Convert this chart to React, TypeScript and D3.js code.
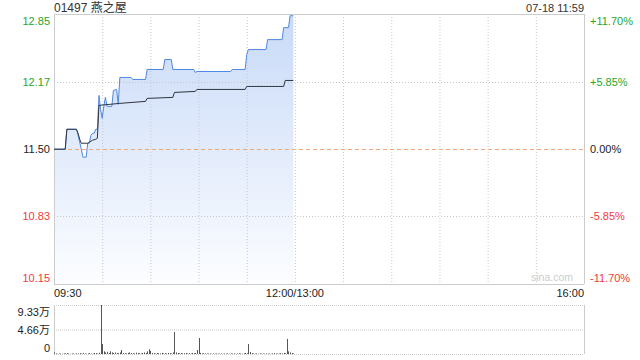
import React from "react";
import * as d3 from "d3";

// ---- data ----
const title = "01497 燕之屋";
const stamp = "07-18 11:59";
const prevClose = 11.5;
const priceTicks = [12.85, 12.17, 11.5, 10.83, 10.15];
const pctTicks = ["+11.70%", "+5.85%", "0.00%", "-5.85%", "-11.70%"];
const volTicks = [9.33, 4.66, 0];
const volTickLabels = ["9.33万", "4.66万", "0"];
const timeLabels = ["09:30", "12:00/13:00", "16:00"];
const timeLabelAt = [0, 150, 330];

// minutes since 09:30 (session minutes), price
const priceMin = [0, 7, 8, 14, 15, 16, 17, 18, 20, 21, 22, 23, 24, 25, 26, 27, 28, 29, 30, 31, 32, 33, 36, 37, 39, 40, 41, 48, 49, 57, 58, 68, 69, 73, 74, 87, 88, 89, 110, 111, 119, 120, 121, 132, 133, 142, 143, 146, 147, 149];
const priceVal = [11.5, 11.5, 11.7, 11.7, 11.64, 11.57, 11.5, 11.42, 11.42, 11.56, 11.56, 11.64, 11.66, 11.66, 11.7, 11.7, 12.04, 11.9, 11.81, 11.93, 12.02, 11.93, 11.93, 12.09, 12.1, 11.95, 12.22, 12.22, 12.2, 12.2, 12.3, 12.3, 12.4, 12.4, 12.3, 12.3, 12.27, 12.28, 12.28, 12.3, 12.3, 12.45, 12.5, 12.5, 12.6, 12.6, 12.72, 12.72, 12.84, 12.84];

const avgMin = [0, 7, 8, 14, 15, 16, 17, 21, 22, 23, 24, 26, 27, 28, 41, 57, 58, 74, 75, 88, 89, 119, 120, 143, 144, 149];
const avgVal = [11.5, 11.5, 11.7, 11.7, 11.66, 11.6, 11.56, 11.56, 11.57, 11.58, 11.59, 11.6, 11.61, 11.94, 11.96, 11.98, 12.01, 12.02, 12.07, 12.08, 12.1, 12.1, 12.13, 12.13, 12.19, 12.19];

// volume per minute (万), minutes 0..149
const volume = [
  0.3, 0.1, 0.05, 0.1, 0.08, 0.05, 0.1, 0.12, 0.15, 0.1,
  0.05, 0.08, 0.1, 0.05, 0.12, 0.1, 0.15, 0.08, 0.2, 0.1,
  0.05, 0.1, 0.15, 0.1, 0.08, 0.2, 0.15, 0.1, 0.25, 9.33,
  1.9, 0.5, 0.3, 0.4, 0.2, 0.5, 0.3, 0.2, 0.3, 0.2,
  0.15, 0.3, 0.76, 0.2, 0.15, 0.1, 0.2, 0.3, 0.2, 0.15,
  0.1, 0.25, 0.2, 0.15, 0.1, 0.2, 0.3, 0.2, 0.5, 0.9,
  0.6, 0.2, 0.15, 0.1, 0.2, 0.15, 0.1, 0.2, 0.1, 0.15,
  0.1, 0.2, 0.15, 0.1, 0.3, 4.19, 0.3, 0.2, 0.15, 0.2,
  0.1, 0.15, 0.2, 0.1, 0.15, 0.1, 0.2, 0.15, 0.2, 0.76,
  3.05, 0.2, 0.1, 0.15, 0.1, 0.1, 0.08, 0.1, 0.05, 0.1,
  0.08, 0.1, 0.05, 0.1, 0.08, 0.05, 0.1, 0.08, 0.1, 0.05,
  0.1, 0.08, 0.1, 0.05, 0.1, 0.15, 0.1, 0.05, 0.1, 0.2,
  0.15, 1.9, 0.4, 0.15, 0.1, 0.08, 0.1, 0.05, 0.1, 0.08,
  0.1, 0.05, 0.1, 0.08, 0.1, 0.05, 0.1, 0.15, 0.1, 0.08,
  0.1, 0.15, 0.1, 0.2, 0.15, 2.86, 0.5, 0.3, 0.2, 0.1,
];

const GREEN = "#2aa52a";
const RED = "#f03a3a";
const DARK = "#222";
const FONT = "Arial, 'Liberation Sans', 'Noto Sans CJK SC', sans-serif";

export default function App() {
  const L = 54, R = 584, T = 14, B = 284;
  const VT = 305, VB = 354;
  const x = d3.scaleLinear().domain([0, 330]).range([L, R]);
  const y = d3.scaleLinear().domain([10.15, 12.85]).range([B - 0.3, T + 0.7]);
  const vy = d3.scaleLinear().domain([0, 9.33]).range([VB, VT]);

  const pricePts = priceMin.map((m, i) => [m, priceVal[i]] as [number, number]);
  const avgPts = avgMin.map((m, i) => [m, avgVal[i]] as [number, number]);

  const line = d3.line<[number, number]>().x(d => x(d[0])).y(d => y(d[1]));
  const area = d3.area<[number, number]>().x(d => x(d[0])).y0(B).y1(d => y(d[1]));

  const vGrid = d3.range(1, 11).map(i => i * 30);
  const labelColor = (i: number) => (i < 2 ? GREEN : i === 2 ? DARK : RED);
  const labelY = (i: number, v: number) => (i === 0 ? T + 10.5 : i === 4 ? B - 2.5 : y(v) + 4);

  return (
    <div style={{ position: "absolute", left: 0, top: 0 }}>
      <svg width={640} height={360} style={{ display: "block", fontFamily: FONT }}>
        <defs>
          <linearGradient id="fillg" gradientUnits="userSpaceOnUse" x1={0} y1={T} x2={0} y2={B}>
            <stop offset="0" stopColor="#c8daf8" />
            <stop offset="1" stopColor="#fcfdff" />
          </linearGradient>
        </defs>
        <rect width={640} height={360} fill="#fff" />
        <text x={L} y={12} fontSize={12} fill="#333">{title}</text>
        <text x={R} y={12} fontSize={11} fill="#333" textAnchor="end">{stamp}</text>

        {/* area */}
        <path d={area(pricePts) || ""} fill="url(#fillg)" />

        {/* grid */}
        {vGrid.map(m => (
          <line key={m} x1={x(m) + 0.5} x2={x(m) + 0.5} y1={T} y2={B} stroke="#c8c8c8" strokeDasharray="1,2" />
        ))}
        {[12.17, 10.83].map(v => (
          <line key={v} x1={L} x2={R} y1={Math.round(y(v)) + 0.5} y2={Math.round(y(v)) + 0.5} stroke="#c8c8c8" strokeDasharray="1,2" />
        ))}
        <line x1={L} x2={R} y1={Math.round(y(prevClose)) + 0.5} y2={Math.round(y(prevClose)) + 0.5} stroke="#f0a878" strokeDasharray="4,3" />

        {/* frame */}
        <line x1={L} x2={R} y1={T + 0.5} y2={T + 0.5} stroke="#ccc" />
        <line x1={L} x2={R} y1={B + 0.5} y2={B + 0.5} stroke="#ccc" />
        <line x1={L + 0.5} x2={L + 0.5} y1={T} y2={B} stroke="#ccc" />
        <line x1={R + 0.5} x2={R + 0.5} y1={T} y2={B} stroke="#ccc" />

        <text x={573} y={281} fontSize={10.5} fill="#ccc" textAnchor="end">sina.com</text>

        {/* lines */}
        <path d={line(pricePts) || ""} fill="none" stroke="#5088e2" strokeWidth={1} />
        <path d={line(avgPts) || ""} fill="none" stroke="#2f3540" strokeWidth={1} />

        {/* y labels */}
        {priceTicks.map((v, i) => (
          <text key={"l" + i} x={50} y={labelY(i, v)} fontSize={11} fill={labelColor(i)} textAnchor="end">{v.toFixed(2)}</text>
        ))}
        {pctTicks.map((p, i) => (
          <text key={"r" + i} x={590} y={labelY(i, priceTicks[i])} fontSize={11} fill={labelColor(i)}>{p}</text>
        ))}

        {/* x labels */}
        {timeLabels.map((t, i) => (
          <text key={t} x={x(timeLabelAt[i])} y={297} fontSize={11} fill="#222"
            textAnchor={i === 0 ? "start" : i === 2 ? "end" : "middle"}>{t}</text>
        ))}

        {/* volume panel */}
        {volTicks.map((v, i) => (
          <line key={"vg" + i} x1={L} x2={R} y1={vy(v) + 0.5} y2={vy(v) + 0.5} stroke="#c8c8c8" strokeDasharray="1,1" />
        ))}
        <line x1={L + 0.5} x2={L + 0.5} y1={VT} y2={VB} stroke="#ccc" />
        <line x1={R + 0.5} x2={R + 0.5} y1={VT} y2={VB} stroke="#ccc" />
        {volume.map((v, i) => (
          <line key={"vb" + i} x1={Math.round(x(i)) + 0.5} x2={Math.round(x(i)) + 0.5} y1={VB} y2={vy(v)} stroke="#555" strokeWidth={1} />
        ))}
        {volTickLabels.map((t, i) => (
          <text key={t} x={50} y={i === 0 ? 315.5 : i === 1 ? 334 : 352} fontSize={11} fill="#222" textAnchor="end">{t}</text>
        ))}
      </svg>
    </div>
  );
}
